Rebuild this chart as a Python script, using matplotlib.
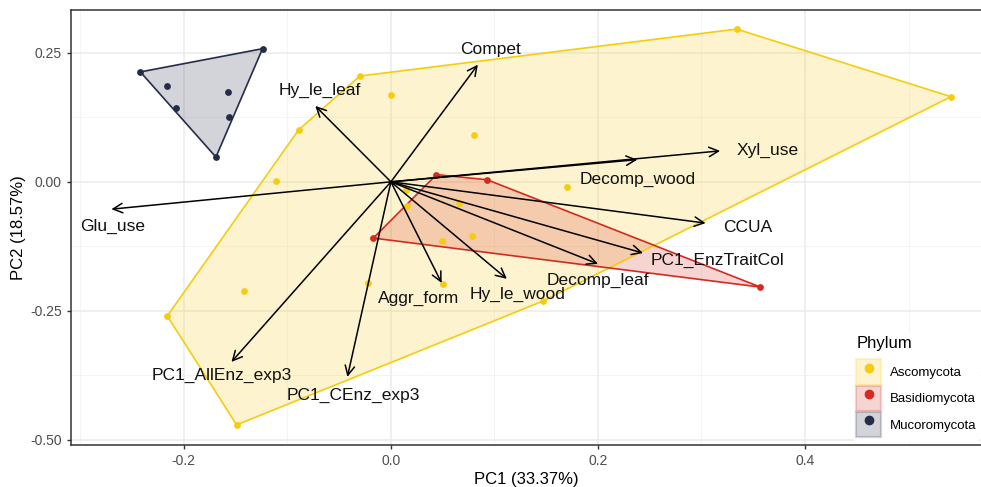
import numpy as np
import matplotlib
matplotlib.use("Agg")
import matplotlib.pyplot as plt
from matplotlib.patches import Polygon, Patch
from matplotlib.lines import Line2D
from matplotlib.ticker import MultipleLocator

plt.rcParams["font.family"] = ["Liberation Sans", "DejaVu Sans"]

# sample scores per phylum (PC1, PC2)
asco_x = [-0.030, -0.089, 0.334, 0.541, 0.147, -0.149, -0.216, -0.111, 0.000, 0.080,
          0.170, 0.015, 0.016, 0.066, 0.049, 0.078, 0.050, -0.022, -0.142]
asco_y = [0.205, 0.101, 0.296, 0.165, -0.231, -0.471, -0.260, 0.002, 0.169, 0.091,
          -0.010, -0.016, -0.047, -0.041, -0.114, -0.105, -0.198, -0.196, -0.211]
basi_x = [0.044, 0.093, 0.357, -0.017]
basi_y = [0.014, 0.004, -0.204, -0.109]
muco_x = [-0.242, -0.124, -0.169, -0.216, -0.208, -0.157, -0.156]
muco_y = [0.213, 0.258, 0.048, 0.186, 0.143, 0.174, 0.126]

# trait loadings (arrow tips) and label positions
traits = ["Compet", "Hy_le_leaf", "Glu_use", "Xyl_use", "Decomp_wood", "CCUA",
          "PC1_EnzTraitCol", "Decomp_leaf", "Hy_le_wood", "Aggr_form",
          "PC1_AllEnz_exp3", "PC1_CEnz_exp3"]
tip_x = [0.084, -0.073, -0.270, 0.318, 0.238, 0.304, 0.2435, 0.200, 0.112, 0.049, -0.154, -0.042]
tip_y = [0.227, 0.147, -0.053, 0.060, 0.043, -0.080, -0.138, -0.159, -0.188, -0.196, -0.349, -0.378]
lab_x = [0.096, -0.069, -0.269, 0.364, 0.238, 0.345, 0.315, 0.200, 0.122, 0.027, -0.163, -0.036]
lab_y = [0.256, 0.178, -0.087, 0.060, 0.004, -0.089, -0.153, -0.192, -0.219, -0.225, -0.376, -0.413]

phyla = ["Ascomycota", "Basidiomycota", "Mucoromycota"]
colors = {"Ascomycota": "#F5CC0F", "Basidiomycota": "#D42A20", "Mucoromycota": "#252C48"}
fills = {"Ascomycota": ("#F5CC0F", 0.2), "Basidiomycota": ("#D42A20", 0.2),
         "Mucoromycota": ("#252C48", 0.2)}


def convex_hull(xs, ys):
    pts = sorted(set(zip(xs, ys)))

    def cross(o, a, b):
        return (a[0]-o[0])*(b[1]-o[1]) - (a[1]-o[1])*(b[0]-o[0])
    lower, upper = [], []
    for p in pts:
        while len(lower) >= 2 and cross(lower[-2], lower[-1], p) <= 0:
            lower.pop()
        lower.append(p)
    for p in reversed(pts):
        while len(upper) >= 2 and cross(upper[-2], upper[-1], p) <= 0:
            upper.pop()
        upper.append(p)
    return np.array(lower[:-1] + upper[:-1])


fig = plt.figure(figsize=(9.81, 4.87), dpi=100)
ax = fig.add_axes([71/981, 1-445/487, 1-71/981, (445-10)/487])

data = {"Ascomycota": (asco_x, asco_y), "Basidiomycota": (basi_x, basi_y),
        "Mucoromycota": (muco_x, muco_y)}
for ph in phyla:
    xs, ys = data[ph]
    hull = convex_hull(xs, ys)
    fc, a = fills[ph]
    ax.add_patch(Polygon(hull, closed=True, facecolor=fc, alpha=a, edgecolor="none", zorder=2))
    ax.add_patch(Polygon(hull, closed=True, facecolor="none", edgecolor=colors[ph], lw=1.2, zorder=3))
    ax.scatter(xs, ys, s=24, color=colors[ph], zorder=4, linewidths=0)

for name, tx, ty, lx, ly in zip(traits, tip_x, tip_y, lab_x, lab_y):
    ax.annotate("", xy=(tx, ty), xytext=(0, 0),
                arrowprops=dict(arrowstyle="->", color="black", lw=1.1,
                                mutation_scale=17, shrinkA=0, shrinkB=0), zorder=5)
    ax.text(lx, ly, name, ha="center", va="center", fontsize=12.5, color="#111111", zorder=6)

ax.set_xlim(-0.309, 0.570)
ax.set_ylim(-0.510, 0.333)
ax.xaxis.set_minor_locator(MultipleLocator(0.1))
ax.yaxis.set_minor_locator(MultipleLocator(0.125))
ax.set_xticks([-0.2, 0.0, 0.2, 0.4])
ax.set_xticklabels(["-0.2", "0.0", "0.2", "0.4"])
ax.set_yticks([-0.5, -0.25, 0.0, 0.25])
ax.set_yticklabels(["-0.50", "-0.25", "0.00", "0.25"])
ax.grid(which="major", color="#EBEBEB", lw=1.1, zorder=0)
ax.grid(which="minor", color="#F2F2F2", lw=0.6, zorder=0)
ax.set_axisbelow(True)
ax.tick_params(which="major", length=3, width=1, color="#333333", labelsize=10,
               labelcolor="#4D4D4D")
ax.tick_params(which="minor", length=0)
for side in ["left", "bottom", "top"]:
    ax.spines[side].set_color("#333333")
    ax.spines[side].set_linewidth(1.1)
ax.spines["right"].set_visible(False)

ax.set_xlabel("PC1 (33.37%)", fontsize=12, labelpad=3)
ax.set_ylabel("PC2 (18.57%)", fontsize=12, labelpad=3)

handles = []
for ph in phyla:
    fc, a = fills[ph]
    handles.append((Patch(facecolor=fc, alpha=a, edgecolor=colors[ph], lw=1.6),
                    Line2D([], [], marker="o", ls="none", color=colors[ph], markersize=6)))
leg = ax.legend(handles, phyla, title="Phylum", loc="lower right",
                bbox_to_anchor=(1.006, -0.005), frameon=True, fontsize=9.5,
                title_fontsize=12, handlelength=1.85, handleheight=2.6,
                labelspacing=0.05, borderpad=0.25, handletextpad=0.7)
leg.get_frame().set_edgecolor("none")
leg.get_frame().set_facecolor("white")
leg.get_frame().set_alpha(1)
leg._legend_box.align = "left"
leg._legend_box.sep = 6

fig.savefig("out.png", dpi=100)
